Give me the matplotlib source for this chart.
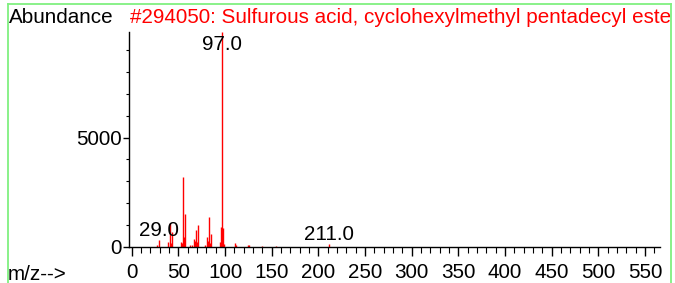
import matplotlib
matplotlib.use("Agg")
import matplotlib.pyplot as plt
from matplotlib.lines import Line2D
from matplotlib.patches import Rectangle
from matplotlib.ticker import MultipleLocator

plt.rcParams['font.family'] = ['Liberation Sans', 'DejaVu Sans']

# spectrum
mz = [27, 29, 39, 41, 42, 43, 53, 54, 55, 56, 57, 63, 65, 67, 68, 69, 70, 71,
      79, 81, 82, 83, 84, 85, 95, 96, 97, 98, 99, 111, 112, 125, 126, 140, 155, 211]
abundance = [90, 300, 200, 1100, 150, 680, 200, 150, 3210, 450, 1480, 60, 100, 350, 250, 770, 200, 1000,
             100, 430, 250, 1360, 150, 570, 230, 890, 9860, 860, 120, 170, 80, 100, 60, 40, 20, 110]
labelled = [29.0, 97.0, 211.0]
title = "#294050: Sulfurous acid, cyclohexylmethyl pentadecyl ester"

W, H = 675, 283
fs = 14.9
fig = plt.figure(figsize=(W / 100, H / 100), dpi=100)
ax = fig.add_axes([128.5 / W, 1 - 246.7 / H, (660 - 128.5) / W, (246.7 - 31.7) / H])

ax.vlines(mz, 0, abundance, color='red', lw=1.0)

ax.set_xlim(-3.4, 566)
ax.set_ylim(0, 9860)

for m in labelled:
    a = abundance[mz.index(int(m))]
    ax.text(m, min(a + 200, 9020), f"{m:.1f}", ha='center', va='baseline',
            fontsize=fs, color='black')

for s in ['top', 'right']:
    ax.spines[s].set_visible(False)
for s in ['left', 'bottom']:
    ax.spines[s].set_linewidth(1.0)

ax.xaxis.set_major_locator(MultipleLocator(50))
ax.xaxis.set_minor_locator(MultipleLocator(10))
ax.yaxis.set_major_locator(MultipleLocator(5000))
ax.yaxis.set_minor_locator(MultipleLocator(1000))
ax.tick_params(axis='x', which='major', length=6.5, width=1, labelsize=fs, pad=5)
ax.tick_params(axis='x', which='minor', length=4, width=0.8)
ax.tick_params(axis='y', which='major', length=4, width=1, labelsize=fs, pad=1)
ax.tick_params(axis='y', which='minor', length=2.5, width=0.8)

fig.text(9 / W, 1 - 23 / H, "Abundance", fontsize=fs, va='baseline', ha='left')
fig.text(130 / W, 1 - 23 / H, title, fontsize=fs, va='baseline', ha='left', color='red')
fig.text(8 / W, 1 - 280 / H, "m/z-->", fontsize=fs, va='baseline', ha='left')

# clip the title at the green frame
fig.patches.append(Rectangle((672 / W, 0), 3 / W, 1, transform=fig.transFigure,
                             color='white', zorder=5))
green = '#80f080'
fig.add_artist(Line2D([7.5 / W, 7.5 / W], [0, 1 - 3.5 / H], color=green, lw=1.3, zorder=6))
fig.add_artist(Line2D([671 / W, 671 / W], [0, 1 - 3.5 / H], color=green, lw=1.3, zorder=6))
fig.add_artist(Line2D([7.5 / W, 671 / W], [1 - 3.5 / H, 1 - 3.5 / H], color=green, lw=1.3, zorder=6))

fig.savefig("out.png", dpi=100)
